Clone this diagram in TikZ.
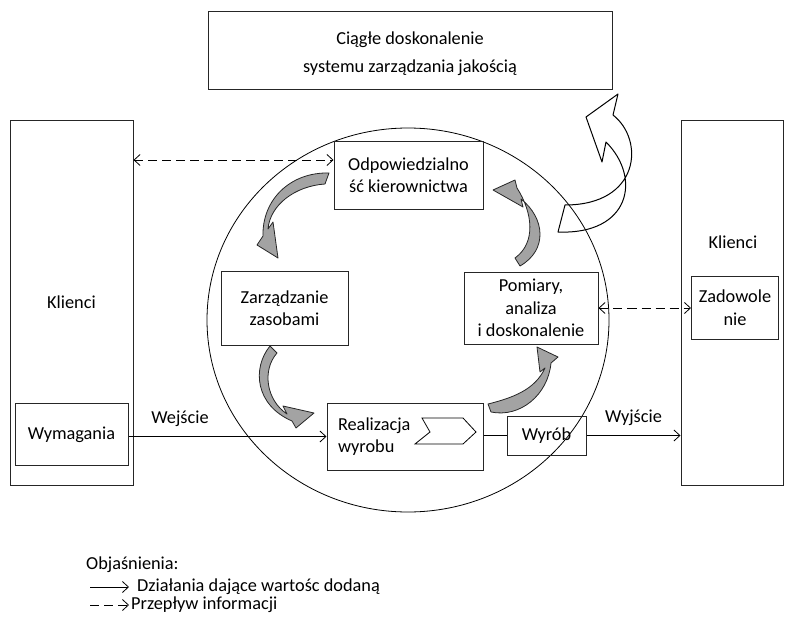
\documentclass[tikz,border=0pt]{standalone}
\usepackage{fontspec}
\setmainfont{Carlito}
\usetikzlibrary{arrows.meta}
\definecolor{outline}{HTML}{262626}
\definecolor{arrowgray}{HTML}{A3A3A3}

\begin{document}
\begin{tikzpicture}[x=1pt, y=-1pt,
  box/.style={rectangle, draw=outline, line width=1pt, inner sep=0pt, align=center,
              font=\fontsize{18.3}{22.5}\selectfont},
  txt/.style={inner sep=0pt, align=left, font=\fontsize{18.3}{22.5}\selectfont},
  flowline/.style={-{Straight Barb[length=6pt,width=11pt]}, line width=0.8pt},
  infoline/.style={{Straight Barb[length=6pt,width=11pt]}-{Straight Barb[length=6pt,width=11pt]},
                   dash pattern=on 9pt off 5pt, line width=0.8pt},
  curvearrow/.style={fill=arrowgray, draw=outline, line width=0.8pt, line join=round},
]
  \useasboundingbox (0,0) rectangle (795,618);

  \draw[line width=0.8pt] (408,320) ellipse [x radius=201pt, y radius=192pt];

  \node[box, minimum width=404pt, minimum height=77pt] (improve) at (410,50.5) {};
  \node[txt, align=center, font=\fontsize{18.3}{28}\selectfont] (improvetxt) at (410,54) {Ciągłe doskonalenie\\systemu zarządzania jakością};
  \node[box, minimum width=123pt, minimum height=365pt] (clientsL) at (71.5,302.5) {Klienci};
  \node[box, minimum width=113pt, minimum height=62pt] (wymag) at (71.5,434.5) {Wymagania};
  \node[box, minimum width=102pt, minimum height=365pt] (clientsR) at (732,302.5) {};
  \node[txt] (clientsRtxt) at (733,242) {Klienci};
  \node[box, minimum width=87pt, minimum height=63pt] (zadow) at (735,307.5) {Zadowole\\nie};
  \node[box, minimum width=149pt, minimum height=68pt] (odp) at (408.5,175) {Odpowiedzialno\\ść kierownictwa};
  \node[box, minimum width=127pt, minimum height=74pt] (zarz) at (284.5,308) {Zarządzanie\\zasobami};
  \node[box, minimum width=134pt, minimum height=72pt] (pomiary) at (531,308) {Pomiary,\\analiza\\i doskonalenie};
  \node[box, minimum width=156pt, minimum height=67pt, text width=134pt, align=left] (realiz) at (405,436.5) {Realizacja\\wyrobu};
  \node[box, minimum width=79pt, minimum height=39pt] (wyrob) at (546.5,435.5) {Wyrób};

  \draw[line width=0.8pt] (422,418) -- (463,418) -- (476,432) -- (463,444) -- (415,444) -- (430,432) -- cycle;

  \draw[flowline] (wymag.east |- realiz) -- node[txt, above=9pt, pos=0.26] (wejscie) {Wejście} (realiz.west);
  \draw[line width=0.8pt] (realiz.east |- wyrob) -- (wyrob.west);
  \draw[flowline] (wyrob.east) -- node[txt, above=9pt] (wyjscie) {Wyjście} (wyrob -| clientsR.west);
  \draw[infoline] ([yshift=15pt]odp.west -| clientsL.east) -- ([yshift=15pt]odp.west);
  \draw[infoline] (pomiary.east) -- (pomiary -| zadow.west);

  \draw[curvearrow] (329,173) .. controls (290,172) and (262,200) .. (263,236) -- (257,245) -- (278,258) -- (273,222) -- (268,229) .. controls (270,205) and (295,186) .. (325,184) -- cycle;
  \draw[curvearrow] (270,346) .. controls (252,368) and (255,405) .. (292,421) -- (296,428) -- (314,413) -- (283,406) -- (287,414) .. controls (266,400) and (262,370) .. (277,353) -- cycle;
  \draw[curvearrow] (488,404) .. controls (512,398) and (535,390) .. (545,368) -- (540,372) -- (537,347) -- (558,357) -- (551,363) .. controls (548,395) and (520,418) .. (491,412) -- cycle;
  \draw[curvearrow] (515,258) .. controls (536,243) and (533,213) .. (517,188) -- (515,180) -- (493,190) -- (523,207) -- (521,199) .. controls (545,218) and (548,250) .. (520,266) -- cycle;

  \draw[line width=1pt, line join=round] (618,94) -- (613,115) .. controls (645,140) and (640,205) .. (565,205) -- (558,232) .. controls (630,235) and (642,178) .. (606,142) -- (602,162) -- (586,117) -- cycle;

  \node[txt, anchor=west] (legend) at (86,565) {Objaśnienia:};
  \coordinate (solidA) at (90,587);
  \coordinate (solidB) at (129,587);
  \coordinate (dashA) at (90,605);
  \coordinate (dashB) at (129,605);
  \draw[flowline] (solidA) -- (solidB);
  \draw[-{Straight Barb[length=6pt,width=11pt]}, dash pattern=on 9pt off 5pt, line width=0.8pt] (dashA) -- (dashB);
  \node[txt, anchor=west] (legsolid) at (137,587) {Działania dające wartośc dodaną};
  \node[txt, anchor=west] (legdash) at (131,605) {Przepływ informacji};
\end{tikzpicture}
\end{document}
